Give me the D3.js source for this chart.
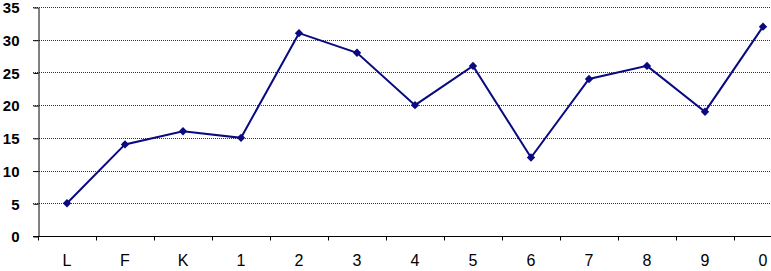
<!DOCTYPE html>
<html>
<head>
<meta charset="utf-8">
<script src="https://cdn.jsdelivr.net/npm/d3@7"></script>
<style>
  body { margin: 0; background: #fff; }
  .grid line { stroke: #333; stroke-width: 1px; stroke-dasharray: 1 1; }
  .axis path, .axis line { stroke: #000; }
  .y-axis text { font-family: Arial, 'Liberation Sans', sans-serif; font-size: 15px; font-weight: bold; fill: #000; }
  .x-axis text { font-family: Arial, 'Liberation Sans', sans-serif; font-size: 16px; fill: #000; }
  .line { fill: none; stroke: #0a0a80; stroke-width: 2px; }
  .dot { fill: #0a0a80; }
</style>
</head>
<body>
<div id="chart"></div>
<script>
const categories = ["L", "F", "K", "1", "2", "3", "4", "5", "6", "7", "8", "9", "0"];
const values = [5, 14, 16, 15, 31, 28, 20, 26, 12, 24, 26, 19, 32];
const yTicks = [0, 5, 10, 15, 20, 25, 30, 35];

const width = 771, height = 271;
const margin = { top: 7, left: 38, bottom: 35 };
// plot area continues past the right edge of the picture
const plotRight = 792;

const svg = d3.select("#chart").append("svg")
  .attr("width", width)
  .attr("height", height);

const x = d3.scaleBand()
  .domain(categories)
  .range([margin.left, plotRight]);

const y = d3.scaleLinear()
  .domain([0, 35])
  .range([height - margin.bottom, margin.top]);

// gridlines
svg.append("g")
  .attr("class", "grid")
  .selectAll("line")
  .data(yTicks.filter(d => d > 0))
  .join("line")
  .attr("x1", margin.left - 5)
  .attr("x2", plotRight)
  .attr("y1", d => Math.round(y(d)) + 0.5)
  .attr("y2", d => Math.round(y(d)) + 0.5);

// Y axis
svg.append("g")
  .attr("class", "axis y-axis")
  .attr("transform", `translate(${margin.left + 0.5},0.5)`)
  .call(d3.axisLeft(y).tickValues(yTicks).tickSize(5).tickPadding(14).tickSizeOuter(0))
  .call(g => g.selectAll("text").attr("dy", "0.35em"));

// X axis
const xAxis = svg.append("g")
  .attr("class", "axis x-axis")
  .attr("transform", `translate(0,${Math.round(y(0)) + 0.5})`)
  .call(d3.axisBottom(x).tickSize(0).tickPadding(18));
xAxis.select(".domain").attr("d", `M${margin.left - 5},0H${plotRight}`);
xAxis.selectAll(".band-tick")
  .data(categories)
  .join("line")
  .attr("class", "band-tick")
  .attr("x1", d => Math.round(x(d)) + 0.5)
  .attr("x2", d => Math.round(x(d)) + 0.5)
  .attr("y1", 0)
  .attr("y2", 4)
  .attr("stroke", "#000");

const cx = d => x(d) + x.bandwidth() / 2;

svg.append("path")
  .datum(values)
  .attr("class", "line")
  .attr("d", d3.line()
    .x((d, i) => cx(categories[i]))
    .y(d => y(d)));

svg.selectAll(".dot")
  .data(values)
  .join("path")
  .attr("class", "dot")
  .attr("d", d3.symbol(d3.symbolDiamond2, 45))
  .attr("transform", (d, i) => `translate(${cx(categories[i])},${y(d)})`);
</script>
</body>
</html>
